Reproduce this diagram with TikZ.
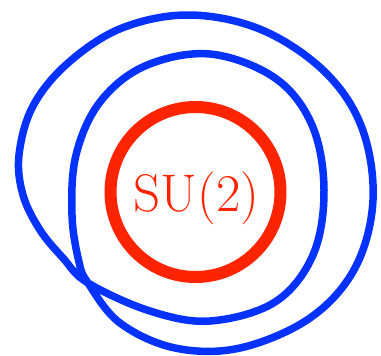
\documentclass[tikz,border=0pt]{standalone}
\usepackage{fontspec}
\usepackage{tikz}
\usetikzlibrary{positioning}
\definecolor{loopblue}{RGB}{5,50,255}
\definecolor{groupred}{RGB}{255,36,0}

\begin{document}
\begin{tikzpicture}[x=1pt, y=-1pt]
                    \useasboundingbox (0,0) rectangle (381,356);
                    % the group circle
                    \draw[groupred, line width=12pt] (195.5,192) circle (85);
                    \node[groupred, anchor=base, inner sep=0pt] (su) at (196.5,211) {\fontsize{53}{64}\selectfont SU(2)};
                    % the loop winding twice
                    \draw[loopblue, line width=7.5pt, line join=round] plot[smooth cycle, tension=0.6] coordinates {
                        (88,283) (150,311) (210,321) (275,302) (313,255) (324,190) (312,125)
                        (275,78) (210,54) (145,66) (100,102) (76,155) (72,215) (79,262)
                        (88,283) (120,323) (175,348) (240,348) (310,318) (355,268) (373,200)
                        (362,128) (325,72) (262,30) (190,15) (122,28) (68,63) (33,106)
                        (19,155) (23,195) (40,230) (63,258)};
                \end{tikzpicture}
\end{document}
